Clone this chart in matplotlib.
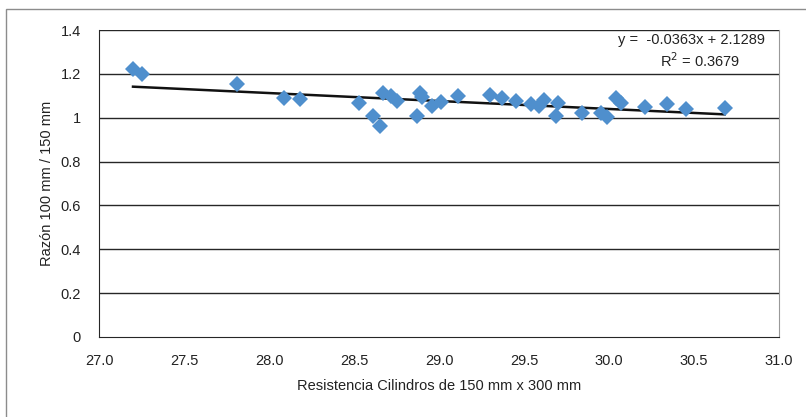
import numpy as np
import matplotlib.pyplot as plt
from matplotlib.patches import Rectangle

plt.rcParams['font.family'] = ['Liberation Sans', 'DejaVu Sans']

# Resistencia cilindros 150x300 (x) y razon 100/150 (y)
resistencia = [27.20, 27.25, 27.81, 28.09, 28.18, 28.53, 28.61, 28.65, 28.67, 28.72,
               28.75, 28.87, 28.89, 28.90, 28.96, 29.01, 29.11, 29.30, 29.37, 29.45,
               29.54, 29.59, 29.62, 29.69, 29.70, 29.84, 29.95, 29.99, 30.04, 30.07,
               30.21, 30.34, 30.45, 30.68]
razon = [1.222, 1.199, 1.154, 1.090, 1.085, 1.067, 1.008, 0.962, 1.113, 1.099,
         1.076, 1.008, 1.113, 1.094, 1.053, 1.072, 1.099, 1.104, 1.090, 1.076,
         1.062, 1.053, 1.081, 1.008, 1.067, 1.021, 1.021, 1.003, 1.090, 1.067,
         1.049, 1.062, 1.040, 1.044]

# Linea de tendencia (Excel)
pendiente = -0.0363
intercepto = 2.1289
r2 = 0.3679

xticks = [27.0, 27.5, 28.0, 28.5, 29.0, 29.5, 30.0, 30.5, 31.0]
yticks = [0, 0.2, 0.4, 0.6, 0.8, 1.0, 1.2, 1.4]
yticklabels = ["0", "0.2", "0.4", "0.6", "0.8", "1", "1.2", "1.4"]

fs = 10.5
fig = plt.figure(figsize=(8.06, 4.17), dpi=100)
ax = fig.add_axes([99/806, 1-337/417, 680/806, 307/417])

# marco exterior
fig.patches.append(Rectangle((6/806, -0.1), 1.2, 1 - 9/417 + 0.1, transform=fig.transFigure,
                             fill=False, edgecolor="#8c8c8c", linewidth=1.0))

for y in yticks[1:]:
    ax.axhline(y, color="#262626", linewidth=1.0, zorder=1)

xt = np.array([min(resistencia), max(resistencia)])
ax.plot(xt, pendiente * xt + intercepto, color="#111111", linewidth=1.8, zorder=2)
ax.plot(resistencia, razon, linestyle="none", marker="D", markersize=8,
        color="#4F8FCD", markeredgewidth=0, zorder=3)

ax.set_xlim(27, 31)
ax.set_ylim(0, 1.4)
ax.set_xticks(xticks)
ax.set_xticklabels([f"{v:.1f}" for v in xticks])
ax.set_yticks(yticks)
ax.set_yticklabels(yticklabels)
ax.tick_params(axis="both", length=0, labelsize=fs, colors="#222222")
ax.tick_params(axis="x", pad=12)
ax.tick_params(axis="y", pad=13)

ax.spines["top"].set_visible(False)
ax.spines["right"].set_color("#999999")
ax.spines["left"].set_color("#262626")
ax.spines["bottom"].set_color("#262626")

ax.set_xlabel("Resistencia Cilindros de 150 mm x 300 mm", fontsize=fs, color="#222222", labelpad=8)
ax.set_ylabel("Razón 100 mm / 150 mm", fontsize=fs, color="#222222", labelpad=5)

ax.text(691/806, 1-40/417, f"y =  {pendiente:.4f}x + {intercepto:.4f}", transform=fig.transFigure,
        ha="center", va="center", fontsize=fs, color="#222222")
ax.text(700/806, 1-61/417, f"R$^2$ = {r2:.4f}", transform=fig.transFigure,
        ha="center", va="center", fontsize=fs, color="#222222")

fig.savefig("out.png", dpi=100)
